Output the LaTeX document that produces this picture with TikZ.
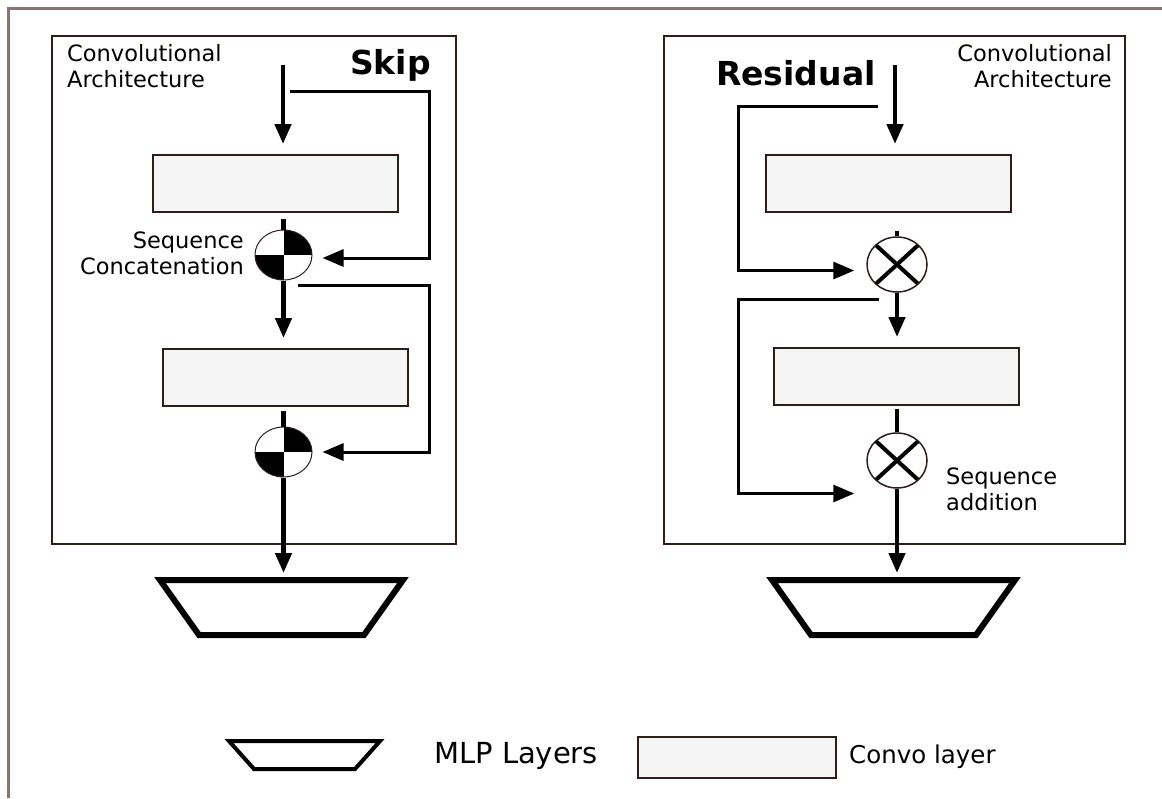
\documentclass[tikz,border=0pt]{standalone}
\usepackage{fontspec}
\setmainfont{DejaVu Sans}
\usepackage{tikz}
\usetikzlibrary{arrows.meta}
\usetikzlibrary{shapes.geometric}
\usetikzlibrary{calc}

\definecolor{framebrown}{RGB}{142,114,110}
\definecolor{edgebrown}{RGB}{45,30,28}
\definecolor{convfill}{RGB}{245,245,245}

\tikzset{
	panel/.style={draw=edgebrown, line width=1.5pt},
	convbox/.style={draw=edgebrown, fill=convfill, line width=2pt, minimum width=245pt, minimum height=57pt, inner sep=0pt},
	mlp/.style={draw, trapezium, shape border rotate=180, line width=6pt, trapezium angle=54.65, inner xsep=82.5pt, inner ysep=27.5pt},
	concat/.style={ellipse, draw=edgebrown, line width=1pt, minimum width=57pt, minimum height=50pt, inner sep=0pt,
		path picture={
			\fill[black] (path picture bounding box.center) rectangle (path picture bounding box.north east);
			\fill[black] (path picture bounding box.center) rectangle (path picture bounding box.south west);
		}},
	addx/.style={ellipse, draw=edgebrown, line width=1.5pt, minimum width=60pt, minimum height=55pt, inner sep=0pt,
		path picture={
			\draw[black, line width=4pt] ($(path picture bounding box.north west)!0.15!(path picture bounding box.south east)$) -- ($(path picture bounding box.north west)!0.85!(path picture bounding box.south east)$);
			\draw[black, line width=4pt] ($(path picture bounding box.south west)!0.15!(path picture bounding box.north east)$) -- ($(path picture bounding box.south west)!0.85!(path picture bounding box.north east)$);
		}},
	flow/.style={line width=4.5pt},
	flowarrow/.style={line width=4.5pt, -{Triangle[length=20pt,width=16pt]}},
	skiparrow/.style={line width=3pt, -{Triangle[length=21pt,width=17pt]}},
	txt/.style={font=\fontsize{22.5}{26}\selectfont, inner sep=0pt},
	title/.style={font=\fontsize{33}{38}\selectfont\bfseries, inner sep=0pt}
}

\begin{document}
\begin{tikzpicture}[x=1pt, y=-1pt]
	\useasboundingbox (0,0) rectangle (1162,798);

	% outer frame
	\draw[framebrown, line width=3pt] (8,798) -- (8,8) -- (1162,8);

	% skip side
	\draw[panel] (52,36) rectangle (456,544);
	\node[txt, align=left, anchor=base west] (convL) at (67,87) {Convolutional\\Architecture};
	\node[title, anchor=base west] (skip) at (350,74) {Skip};

	\node[convbox] (convL1) at (275.5,183.5) {};
	\node[concat] (cat1) at (283.5,255) {};
	\node[txt, align=right, anchor=base east] (catlbl) at (244,274) {Sequence\\Concatenation};
	\node[convbox] (convL2) at (285,377.5) {};
	\node[concat] (cat2) at (283.5,452) {};
	\node[mlp] (mlpL) at (281.5,607.5) {};

	\coordinate (inL) at (283,65);
	\draw[flowarrow, shorten >=10pt] (inL) -- (inL |- convL1.north);
	\draw[flow, shorten <=6pt] (convL1.south -| cat1.north) -- (cat1.north);
	\draw[flowarrow, shorten >=10pt] (cat1.south) -- (cat1.south |- convL2.north);
	\draw[flow, shorten <=4pt] (convL2.south -| cat2.north) -- (cat2.north);
	\draw[flowarrow, shorten >=4pt] (cat2.south) -- (cat2.south |- mlpL.north);

	\coordinate (sk1a) at (290,91);
	\coordinate (sk1b) at (429,91);
	\draw[skiparrow, shorten >=10pt] (sk1a) -- (sk1b) |- ([yshift=-3pt]cat1.east);
	\coordinate (sk2a) at (298,285);
	\coordinate (sk2b) at (429,285);
	\draw[skiparrow, shorten >=10pt] (sk2a) -- (sk2b) |- (cat2.east);

	% residual side
	\draw[panel] (664,36) rectangle (1125,544);
	\node[txt, align=right, anchor=base east] (convR) at (1112,87) {Convolutional\\Architecture};
	\node[title, anchor=base west] (residual) at (716,85) {Residual};

	\node[convbox] (convR1) at (888,183.5) {};
	\node[addx] (add1) at (897,264.5) {};
	\node[convbox] (convR2) at (896.5,376.5) {};
	\node[addx] (add2) at (897,460.5) {};
	\node[txt, align=left, anchor=base west] (addlbl) at (946,510) {Sequence\\addition};
	\node[mlp] (mlpR) at (893.5,607.5) {};

	\coordinate (inR) at (895,65);
	\draw[flowarrow, shorten >=10pt] (inR) -- (inR |- convR1.north);
	\draw[flow, shorten <=18pt] (convR1.south -| add1.north) -- (add1.north);
	\draw[flowarrow, shorten >=10pt] (add1.south) -- (add1.south |- convR2.north);
	\draw[flow, shorten <=3pt] (convR2.south -| add2.north) -- (add2.north);
	\draw[flowarrow, shorten >=4pt] (add2.south) -- (add2.south |- mlpR.north);

	\coordinate (rs1a) at (878,106);
	\coordinate (rs1b) at (738,106);
	\draw[skiparrow, shorten >=12pt] (rs1a) -- (rs1b) |- ([yshift=-6pt]add1.west);
	\coordinate (rs2a) at (879,299);
	\coordinate (rs2b) at (738,299);
	\draw[skiparrow, shorten >=12pt] (rs2a) -- (rs2b) |- ([yshift=-33pt]add2.west);

	% legend
	\node[mlp, line width=4pt, trapezium angle=48.2, inner xsep=50.5pt, inner ysep=14pt] (mlpkey) at (304.5,755) {};
	\node[anchor=base west, inner sep=0pt, font=\fontsize{29}{34}\selectfont] (mlptxt) at (434,763) {MLP Layers};
	\node[convbox, minimum width=198pt, minimum height=41pt] (convkey) at (737,757.5) {};
	\node[anchor=base west, inner sep=0pt, font=\fontsize{24.5}{29}\selectfont] (convtxt) at (849,763) {Convo layer};
\end{tikzpicture}
\end{document}
